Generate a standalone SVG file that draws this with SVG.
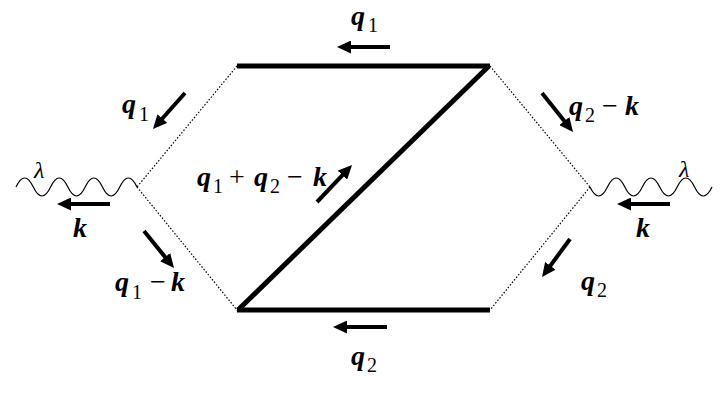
<svg xmlns="http://www.w3.org/2000/svg" width="720" height="405" viewBox="0 0 720 405">
<defs>
<marker id="ah" markerUnits="userSpaceOnUse" markerWidth="14" markerHeight="13" refX="8" refY="6.5" orient="auto" viewBox="0 0 14 13">
<path d="M0,0 L14,6.5 L0,13 z" fill="#000"/>
</marker>
</defs>
<g id="connectors" fill="none" stroke="#000">
<g id="propagators" stroke-width="5">
<line x1="237" y1="66" x2="490" y2="66"/>
<line x1="489" y1="66" x2="238" y2="310"/>
<line x1="237" y1="310" x2="490" y2="310"/>
</g>
<g id="dotted" stroke-width="1.2" stroke-dasharray="1.5 1.8">
<line x1="237" y1="66" x2="137" y2="187"/>
<line x1="137" y1="187" x2="237" y2="310"/>
<line x1="490" y1="66" x2="590" y2="187"/>
<line x1="590" y1="187" x2="490" y2="310"/>
</g>
<g id="waves" stroke-width="1.2">
<path d="M16,187 q8.64,-18 17.29,0 t17.29,0 t17.29,0 t17.29,0 t17.29,0 t17.29,0 t17.29,0"/>
<path d="M590,187 q8.71,18 17.43,0 t17.43,0 t17.43,0 t17.43,0 t17.43,0 t17.43,0 t17.43,0"/>
</g>
<g id="momentum-arrows" stroke-width="4" marker-end="url(#ah)">
<line x1="390" y1="47" x2="343" y2="47"/>
<line x1="387" y1="327" x2="339" y2="327"/>
<line x1="110" y1="204" x2="63" y2="204"/>
<line x1="670" y1="204" x2="623" y2="204"/>
<line x1="185" y1="93" x2="157" y2="124.5"/>
<line x1="144" y1="231" x2="170.2" y2="263.3"/>
<line x1="542" y1="93" x2="569.3" y2="127.3"/>
<line x1="570" y1="239" x2="545.6" y2="272.2"/>
<line x1="317" y1="202" x2="347.9" y2="169.4"/>
</g>
</g>
<g id="label-top-q1"><text x="351" y="25" font-family="Liberation Serif" font-size="28" font-weight="bold" font-style="italic">q<tspan x="368" y="32" font-size="20" font-weight="normal" font-style="normal">1</tspan></text></g>
<g id="label-bottom-q2"><text x="351" y="365" font-family="Liberation Serif" font-size="28" font-weight="bold" font-style="italic">q<tspan x="367" y="372" font-size="20" font-weight="normal" font-style="normal">2</tspan></text></g>
<g id="label-left-q1"><text x="122" y="113" font-family="Liberation Serif" font-size="28" font-weight="bold" font-style="italic">q<tspan x="139" y="121" font-size="20" font-weight="normal" font-style="normal">1</tspan></text></g>
<g id="label-left-q1-k"><text x="115" y="291" font-family="Liberation Serif" font-size="28" font-weight="bold" font-style="italic">q<tspan x="132" y="299" font-size="20" font-weight="normal" font-style="normal">1</tspan><tspan x="150" y="291" font-weight="normal" font-style="normal">−</tspan><tspan x="171" y="291">k</tspan></text></g>
<g id="label-right-q2-k"><text x="569" y="115" font-family="Liberation Serif" font-size="28" font-weight="bold" font-style="italic">q<tspan x="585" y="122" font-size="20" font-weight="normal" font-style="normal">2</tspan><tspan x="602" y="115" font-weight="normal" font-style="normal">−</tspan><tspan x="625" y="115">k</tspan></text></g>
<g id="label-right-q2"><text x="581" y="290" font-family="Liberation Serif" font-size="28" font-weight="bold" font-style="italic">q<tspan x="597" y="297" font-size="20" font-weight="normal" font-style="normal">2</tspan></text></g>
<g id="label-center"><text x="197" y="186" font-family="Liberation Serif" font-size="28" font-weight="bold" font-style="italic">q<tspan x="213" y="193" font-size="20" font-weight="normal" font-style="normal">1</tspan><tspan x="229" y="186" font-weight="normal" font-style="normal">+</tspan><tspan x="254" y="186">q</tspan><tspan x="270" y="193" font-size="20" font-weight="normal" font-style="normal">2</tspan><tspan x="287" y="186" font-weight="normal" font-style="normal">−</tspan><tspan x="313" y="186">k</tspan></text></g>
<g id="label-left-k"><text x="73" y="237" font-family="Liberation Serif" font-size="28" font-weight="bold" font-style="italic">k</text></g>
<g id="label-right-k"><text x="636" y="237" font-family="Liberation Serif" font-size="28" font-weight="bold" font-style="italic">k</text></g>
<g id="lambda-left"><text x="34" y="178" font-family="Liberation Serif" font-size="24" font-style="italic">λ</text></g>
<g id="lambda-right"><text x="679" y="177" font-family="Liberation Serif" font-size="24" font-style="italic">λ</text></g>
</svg>
